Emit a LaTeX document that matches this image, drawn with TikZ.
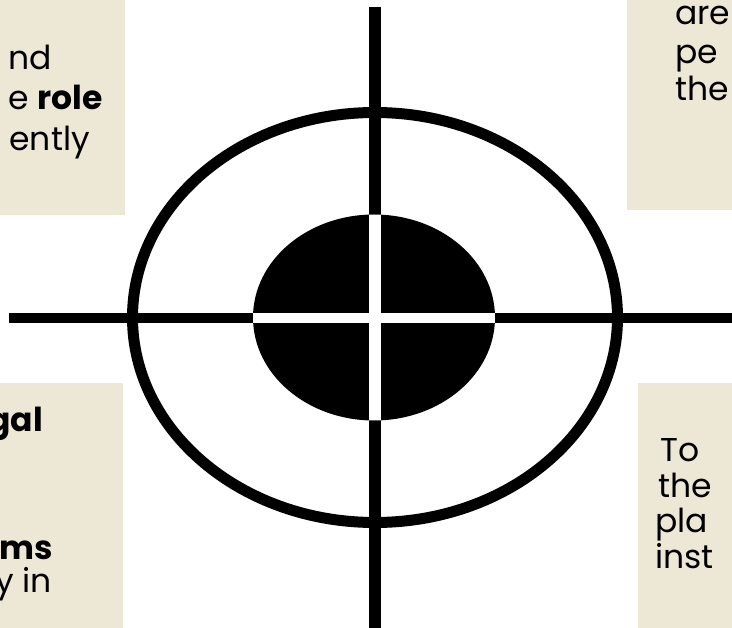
\documentclass[tikz,border=0pt]{standalone}
\usepackage{fontspec}
\setmainfont{Poppins}
\usetikzlibrary{shapes.geometric}
\definecolor{boxbg}{RGB}{237,231,213}
\begin{document}
\begin{tikzpicture}[x=1pt,y=-1pt,
  panel/.style={rectangle,fill=boxbg,draw=none,inner sep=0pt,anchor=north west},
  txtL/.style={inner sep=0pt,anchor=base east,font=\fontsize{33}{36}\selectfont},
  txtR/.style={inner sep=0pt,anchor=base west,font=\fontsize{33}{36}\selectfont},
  vbar/.style={line width=12pt},
  hbar/.style={line width=10.5pt}]
\useasboundingbox (0,0) rectangle (732,628);
\clip (0,0) rectangle (732,628);
\fill[white] (0,0) rectangle (732,628);
% panels
\node[panel,minimum width=125pt,minimum height=215pt] (ptl) at (0,0) {};
\node[panel,minimum width=105pt,minimum height=210pt] (ptr) at (627,0) {};
\node[panel,minimum width=123pt,minimum height=245pt] (pbl) at (0,383) {};
\node[panel,minimum width=94pt,minimum height=245pt] (pbr) at (638,383) {};
% texts
\node[txtL] (t1) at (52,70) {nd};
\node[txtL] (t2) at (103,110) {e \textbf{role}};
\node[txtL] (t3) at (90,151) {ently};
\node[txtR] (t4) at (675,25) {are};
\node[txtR] (t5) at (675,64) {pe};
\node[txtR] (t6) at (675,101) {the};
\node[txtL] (t7) at (43,432) {\textbf{gal}};
\node[txtL] (t8) at (53,560) {\textbf{ms}};
\node[txtL] (t9) at (52,593) {y in};
\node[txtR] (t10) at (660,462) {To};
\node[txtR] (t11) at (658,497.5) {the};
\node[txtR] (t12) at (655,533) {pla};
\node[txtR] (t13) at (655,568.5) {inst};
% target
\coordinate (vtop) at (374.5,7);
\coordinate (vbot) at (374.5,640);
\coordinate (hl) at (9,318);
\coordinate (hr) at (740,318);
\node[ellipse,draw=black,line width=11pt,inner sep=0pt,minimum width=485pt,minimum height=410pt] (outer) at (375,317.5) {};
\draw[vbar] (vtop) -- (vbot);
\draw[hbar] (hl) -- (hr);
\node[ellipse,fill=black,inner sep=0pt,minimum width=242pt,minimum height=206pt] (inner) at (374,317.5) {};
\begin{scope}
\clip (374,317.5) ellipse [x radius=121, y radius=103];
\draw[vbar,white] (vtop) -- (vbot);
\draw[hbar,white] (hl) -- (hr);
\end{scope}
\end{tikzpicture}
\end{document}
